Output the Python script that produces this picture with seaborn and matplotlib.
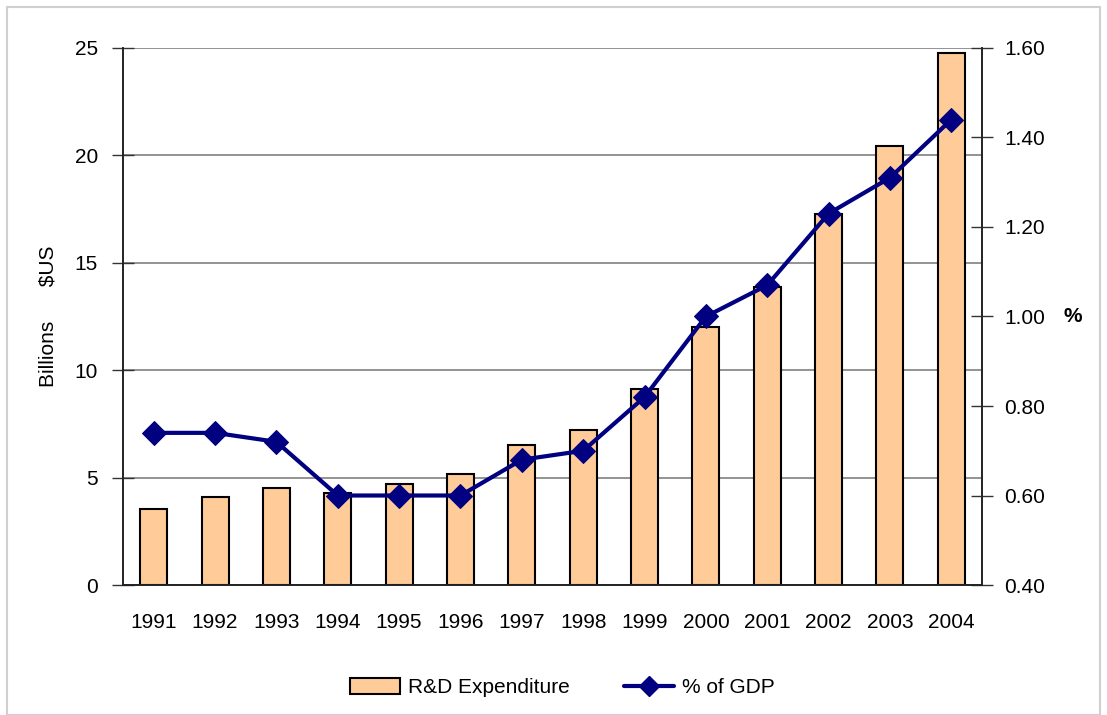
import matplotlib
matplotlib.use("Agg")
import matplotlib.pyplot as plt
import numpy as np
import pandas as pd
import seaborn as sns
from matplotlib.patches import Rectangle, Patch
from matplotlib.lines import Line2D
from matplotlib.ticker import FixedLocator, FuncFormatter

# data
years = ["1991", "1992", "1993", "1994", "1995", "1996", "1997",
         "1998", "1999", "2000", "2001", "2002", "2003", "2004"]
rd_expenditure = [3.54, 4.10, 4.52, 4.28, 4.70, 5.17, 6.52,
                  7.22, 9.12, 12.01, 13.87, 17.27, 20.44, 24.77]
pct_gdp = [0.74, 0.74, 0.72, 0.60, 0.60, 0.60, 0.68,
           0.70, 0.82, 1.00, 1.07, 1.23, 1.31, 1.44]

df = pd.DataFrame({"year": years, "rd": rd_expenditure, "gdp": pct_gdp})
df["pos"] = np.arange(len(df))

sns.set_style("white")
plt.rcParams["font.family"] = ["Liberation Sans", "DejaVu Sans"]
plt.rcParams["text.color"] = "black"
plt.rcParams["xtick.color"] = "black"
plt.rcParams["ytick.color"] = "black"
plt.rcParams["axes.labelcolor"] = "black"

bar_color = "#FFCC99"
line_color = "#000080"

fig = plt.figure(figsize=(11.07, 7.15), dpi=100)
ax = fig.add_axes([0.1111, 0.1818, 0.7760, 0.7511])

sns.barplot(data=df, x="year", y="rd", color=bar_color, width=0.44,
            edgecolor="black", linewidth=1.5, saturation=1, ax=ax)

ax2 = ax.twinx()
sns.lineplot(data=df, x="pos", y="gdp", color=line_color, linewidth=3,
             marker="D", markersize=12, markeredgecolor=line_color, ax=ax2)

ax.set_xlim(-0.5, len(years) - 0.5)
ax2.set_xlim(-0.5, len(years) - 0.5)
ax.set_ylim(0, 25)
ax2.set_ylim(0.4, 1.6)

ax.set_yticks([0, 5, 10, 15, 20, 25])
ax2.set_yticks([0.4, 0.6, 0.8, 1.0, 1.2, 1.4, 1.6])
ax2.yaxis.set_major_formatter(FuncFormatter(lambda v, p: f"{v:.2f}"))

ax.yaxis.grid(True, color="#808080", linewidth=1.2)
ax.set_axisbelow(True)

# category boundaries get the tick marks
ax.xaxis.set_minor_locator(FixedLocator(np.arange(-0.5, len(years), 1.0)))
ax.tick_params(axis="x", which="major", length=0, pad=20, labelsize=15)
ax.tick_params(axis="x", which="minor", length=14, width=1, direction="inout", color="#333333")
ax.tick_params(axis="y", length=16, width=1, direction="inout", labelsize=15, pad=10, color="#333333")
ax2.tick_params(axis="y", length=16, width=1, direction="inout", labelsize=15, pad=8, color="#333333")

for a in (ax, ax2):
    a.spines["top"].set_visible(False)
    for s in ("left", "right", "bottom"):
        a.spines[s].set_color("#222222")
        a.spines[s].set_linewidth(1.2)

ax.set_xlabel("")
ax.set_ylabel("Billions      $US", fontsize=15, labelpad=12)
ax2.set_ylabel("%", fontsize=15, fontweight="bold", rotation=0, labelpad=20, va="center")

handles = [
    Patch(facecolor=bar_color, edgecolor="black", linewidth=1.5, label="R&D Expenditure"),
    Line2D([], [], color=line_color, linewidth=3, marker="D", markersize=10, label="% of GDP"),
]
fig.legend(handles=handles, loc="center", bbox_to_anchor=(0.508, 0.038), ncol=2,
           frameon=False, fontsize=15, handlelength=2.4, handleheight=0.8,
           columnspacing=2.6, handletextpad=0.4)

fig.patches.append(Rectangle((7 / 1107, 0.0), 1093 / 1107, 708 / 715, transform=fig.transFigure,
                             fill=False, edgecolor="#d0d0d0", linewidth=1.5))

fig.savefig("out.png", dpi=100)
